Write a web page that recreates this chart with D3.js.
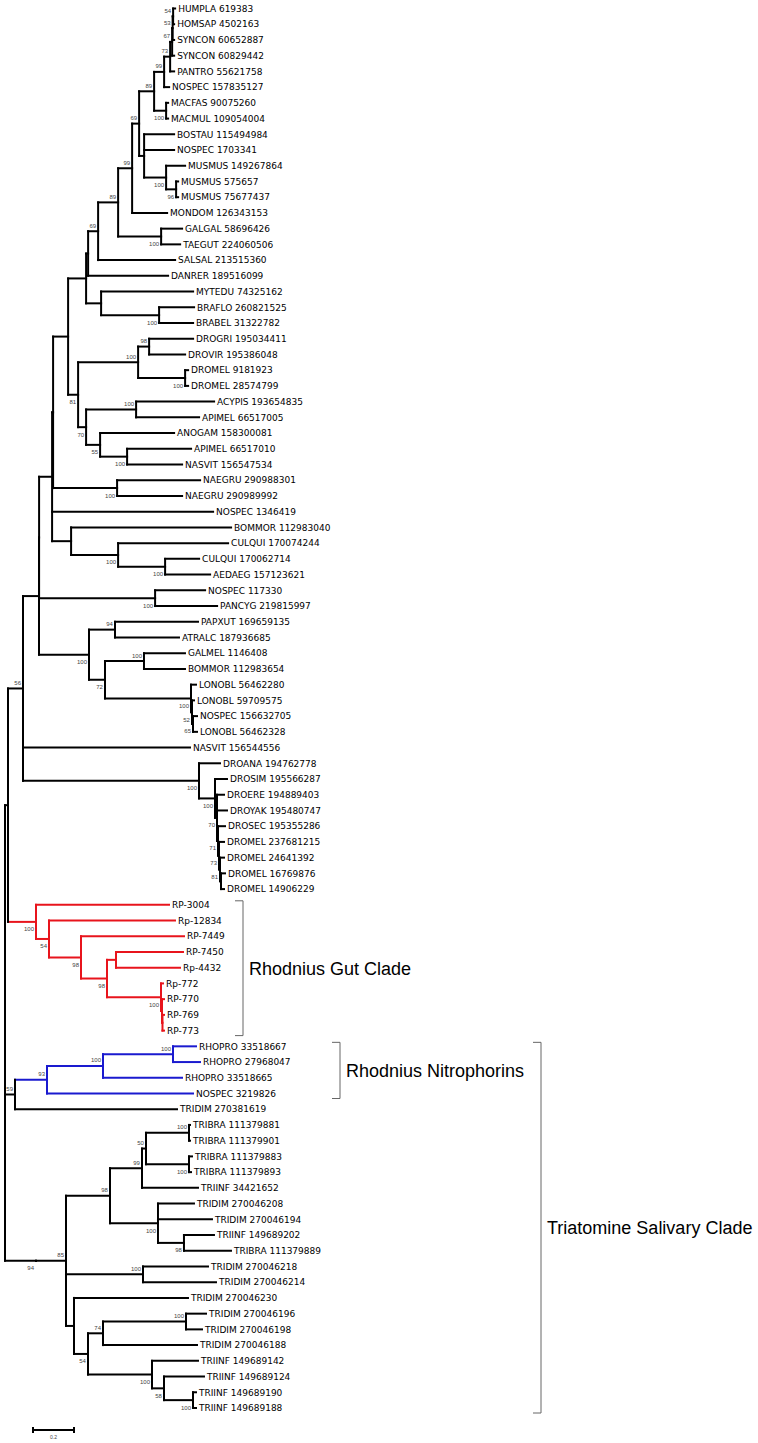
<!DOCTYPE html>
<html><head><meta charset="utf-8">
<script src="https://cdn.jsdelivr.net/npm/d3@7"></script>
<style>body{margin:0;background:#fff}</style>
</head><body>
<svg id="chart" width="758" height="1443"></svg>
<script>
// ---------------- DATA ----------------
// Tree topology, branch lengths (substitutions/site) and bootstrap values (internal labels)
const newickParts = [
"((((((((((((((((((((HUMPLA 619383:0.0098,HOMSAP 4502163:0.0049)54:0.0024,SYNCON 60652887:0.0073)53:0.0024,SYNCON 60829442:0.0098)67:0.0098,PANTRO 55621758:0.0195)73:0.0293,NOSPEC 157835127:0.0244)99:0.0488,",
"(MACFAS 90075260:0.0098,MACMUL 109054004:0.0098)100:0.0585)89:0.0732,",
"(BOSTAU 115494984:0.1463,NOSPEC 1703341:0.1463,(MUSMUS 149267864:0.0927,(MUSMUS 575657:0.0098,MUSMUS 75677437:0.0098)96:0.0488)100:0.1073):0.0244)69:0.0341,",
"MONDOM 126343153:0.1707)99:0.0683,(GALGAL 58696426:0.1024,TAEGUT 224060506:0.0927)100:0.2098)89:0.0976,SALSAL 213515360:0.3756)69:0.0488,",
"DANRER 189516099:0.3902):0.0098,(MYTEDU 74325162:0.4488,(BRAFLO 260821525:0.1707,BRABEL 31322782:0.1659)100:0.2829):0.0732):0.0878,",
"(((DROGRI 195034411:0.2146,DROVIR 195386048:0.1756)98:0.0537,(DROMEL 9181923:0.0146,DROMEL 28574799:0.0146)100:0.2293)100:0.2927,",
"((ACYPIS 193654835:0.3805,APIMEL 66517005:0.3073)100:0.2439,(ANOGAM 158300081:0.3610,(APIMEL 66517010:0.3122,NASVIT 156547534:0.2683)100:0.1317)55:0.0683)70:0.0390)81:0.0488):0.0732,",
"(NAEGRU 290988301:0.4049,NAEGRU 290989992:0.3171)100:0.3122):0.0049,",
"NOSPEC 1346419:0.7854,",
"(BOMMOR 112983040:0.7805,(CULQUI 170074244:0.5366,(CULQUI 170062714:0.1659,AEDAEG 157123621:0.2195)100:0.2293)100:0.2293):0.0927):0.0634,",
"(NOSPEC 117330:0.2439,PANCYG 219815997:0.3024)100:0.5659):0.0005,",
"((PAPXUT 169659135:0.4049,ATRALC 187936685:0.3122)94:0.1268,((GALMEL 1146408:0.2000,BOMMOR 112983654:0.2000)100:0.1902,",
"(LONOBL 56462280:0.0244,(LONOBL 59709575:0.0098,(NOSPEC 156632705:0.0195,LONOBL 56462328:0.0195)65:0.0049)52:0.0049)100:0.4195)72:0.0780)100:0.2439):0.0780,",
"NASVIT 156544556:0.8146,",
"(DROANA 194762778:0.1024,(DROSIM 195566287:0.0585,(DROERE 194889403:0.0341,DROYAK 195480747:0.0488,(DROSEC 195355286:0.0341,(DROMEL 237681215:0.0244,(DROMEL 24641392:0.0195,(DROMEL 16769876:0.0195,DROMEL 14906229:0.0146):0.0049)81:0.0049)73:0.0049)71:0.0049)70:0.0098)100:0.0780)100:0.8585)56:0.0732,",
"(RP-3004:0.6488,(Rp-12834:0.6146,(RP-7449:0.5024,((RP-7450:0.3268,Rp-4432:0.3122):0.0439,(Rp-772:0.0098,(RP-770:0.0098,(RP-769:0.0073,RP-773:0.0073):0.0024):0.0049)100:0.2634)98:0.1268)98:0.1561)54:0.0634)100:0.1366):0.0146,",
"((((((RHOPRO 33518667:0.1122,RHOPRO 27968047:0.1317)100:0.3415,RHOPRO 33518665:0.3854)100:0.2732,NOSPEC 3219826:0.7122)93:0.1561,TRIDIM 270381619:0.7902)59:0.0488,",
"((((((TRIBRA 111379881:0.0049,TRIBRA 111379901:0.0049)100:0.2098,(TRIBRA 111379883:0.0146,TRIBRA 111379893:0.0098)100:0.2098)50:0.0195,TRIINF 34421652:0.2732)99:0.1561,",
"(TRIDIM 270046208:0.1756,TRIDIM 270046194:0.2634,(TRIINF 149689202:0.1463,TRIBRA 111379889:0.2293)98:0.1268)100:0.2341)98:0.2146,",
"(TRIDIM 270046218:0.3171,TRIDIM 270046214:0.3561)100:0.3756,",
"(TRIDIM 270046230:0.5561,(((TRIDIM 270046196:0.0976,TRIDIM 270046198:0.0780)100:0.4049,TRIDIM 270046188:0.4585)74:0.0732,",
"(TRIINF 149689142:0.2244,(TRIINF 149689124:0.1951,(TRIINF 149689190:0.0146,TRIINF 149689188:0.0146)100:0.1415)58:0.0585)100:0.3122)54:0.0683):0.0390)85:0.1463)94:0.1512);"
];

// coloured clades (first and last leaf of each clade)
const cladeFirst  = ["RP-3004", "RHOPRO 33518667"];
const cladeLast   = ["RP-773",  "NOSPEC 3219826"];
const cladeColor  = ["#e8141c", "#1a1acf"];

// bracket annotations
const bracketLabels = ["Rhodnius Gut Clade", "Rhodnius Nitrophorins", "Triatomine Salivary Clade"];
const bracketFirst  = ["RP-3004", "RHOPRO 33518667", "RHOPRO 33518667"];
const bracketLast   = ["RP-773",  "NOSPEC 3219826",  "TRIINF 149689188"];

const scaleBarValue = 0.2;

// ---------------- LAYOUT ----------------
const bracketX = [243, 340, 541];

function parseNewick(s){
  let i = 0;
  function ws(){ while(i < s.length && s[i] === ' ') i++; }
  function node(){
    ws();
    const n = {children: []};
    if (s[i] === '('){
      i++;
      n.children.push(node());
      ws();
      while (s[i] === ','){ i++; n.children.push(node()); ws(); }
      i++; // ')'
    }
    let name = '';
    while (i < s.length && !',():;'.includes(s[i])) name += s[i++];
    n.name = name.trim();
    n.length = 0;
    if (s[i] === ':'){
      i++;
      let num = '';
      while (i < s.length && !',();'.includes(s[i])) num += s[i++];
      n.length = +num.trim();
    }
    if (!n.children.length) delete n.children;
    return n;
  }
  return node();
}

const tree = parseNewick(newickParts.join(''));
const root = d3.hierarchy(tree);
const leaves = root.leaves();

const x = d3.scaleLinear().domain([0, 1]).range([5, 210]);
const y = d3.scaleLinear().domain([0, leaves.length - 1]).range([8.5, 1408]);

root.each(d => { d.xv = d.parent ? d.parent.xv + d.data.length : 0; });
leaves.forEach((d, i) => d.yv = i);
root.eachAfter(d => {
  if (d.children) d.yv = (d.children[0].yv + d.children[d.children.length - 1].yv) / 2;
});

const leafByName = new Map(leaves.map(d => [d.data.name, d]));
function lca(a, b){
  const p = leafByName.get(a).path(leafByName.get(b));
  return p.reduce((m, n) => n.depth < m.depth ? n : m, p[0]);
}
root.each(d => d.color = '#000');
cladeFirst.forEach((f, k) => {
  lca(f, cladeLast[k]).each(d => d.color = cladeColor[k]);
});

const svg = d3.select('#chart');
const g = svg.append('g');

// horizontal branches
g.selectAll('line.h').data(root.descendants().filter(d => d.parent))
  .join('line').attr('class', 'h')
  .attr('x1', d => x(d.parent.xv)).attr('x2', d => x(d.xv))
  .attr('y1', d => y(d.yv)).attr('y2', d => y(d.yv))
  .attr('stroke', d => d.color).attr('stroke-width', 2).attr('stroke-linecap', 'square');

// vertical connectors
g.selectAll('line.v').data(root.descendants().filter(d => d.children))
  .join('line').attr('class', 'v')
  .attr('x1', d => x(d.xv)).attr('x2', d => x(d.xv))
  .attr('y1', d => y(d.children[0].yv)).attr('y2', d => y(d.children[d.children.length - 1].yv))
  .attr('stroke', d => d.color).attr('stroke-width', 2).attr('stroke-linecap', 'square');

// leaf labels
g.selectAll('text.leaf').data(leaves).join('text').attr('class', 'leaf')
  .attr('x', d => x(d.xv) + 3).attr('y', d => y(d.yv)).attr('dy', '0.36em')
  .attr('font-family', 'DejaVu Sans, Verdana, sans-serif').attr('font-size', 9).attr('fill', '#000')
  .text(d => d.data.name);

// bootstrap labels
g.selectAll('text.bs').data(root.descendants().filter(d => d.children && d.data.name))
  .join('text').attr('class', 'bs')
  .attr('x', d => x(d.xv) - 2)
  .attr('y', d => {
    const sib = d.parent.children, idx = sib.indexOf(d);
    const below = idx === sib.length - 1 && sib.length > 1;
    return y(d.yv) + (below ? 9.5 : -3.5);
  })
  .attr('text-anchor', 'end')
  .attr('font-family', 'Liberation Sans, Arial, sans-serif').attr('font-size', 6).attr('fill', '#444')
  .text(d => d.data.name);

// brackets
bracketLabels.forEach((lab, k) => {
  const y1 = y(leafByName.get(bracketFirst[k]).yv) - 4;
  const y2 = y(leafByName.get(bracketLast[k]).yv) + 5;
  const bx = bracketX[k];
  g.append('path')
    .attr('d', `M${bx - 8},${y1}H${bx}V${y2}H${bx - 8}`)
    .attr('fill', 'none').attr('stroke', '#666').attr('stroke-width', 1);
  g.append('text').attr('x', bx + 6).attr('y', (y1 + y2) / 2).attr('dy', '0.35em')
    .attr('font-family', 'Liberation Sans, Arial, sans-serif').attr('font-size', 18).attr('fill', '#000')
    .text(lab);
});

// scale bar
const sb = g.append('g');
const sx0 = 33, sy = 1430;
const sx1 = sx0 + (x(scaleBarValue) - x(0));
sb.append('line').attr('x1', sx0).attr('x2', sx1).attr('y1', sy).attr('y2', sy).attr('stroke', '#000').attr('stroke-width', 2);
[sx0, sx1].forEach(v => sb.append('line').attr('x1', v).attr('x2', v).attr('y1', sy - 3).attr('y2', sy + 3).attr('stroke', '#000').attr('stroke-width', 2));
sb.append('text').attr('x', (sx0 + sx1) / 2).attr('y', sy + 9).attr('text-anchor', 'middle')
  .attr('font-family', 'Liberation Sans, Arial, sans-serif').attr('font-size', 5).attr('fill', '#444')
  .text(String(scaleBarValue));
</script>
</body></html>
